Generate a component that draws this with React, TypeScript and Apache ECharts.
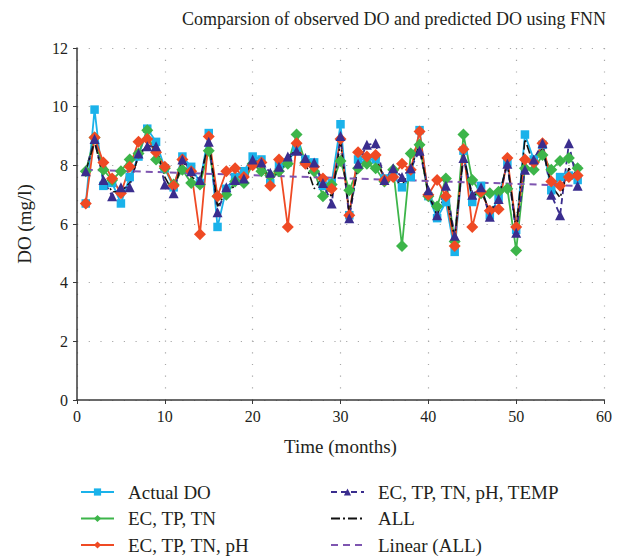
import React, { useEffect, useRef } from "react";
import * as echarts from "echarts";

const months = [1,2,3,4,5,6,7,8,9,10,11,12,13,14,15,16,17,18,19,20,21,22,23,24,25,26,27,28,29,30,31,32,33,34,35,36,37,38,39,40,41,42,43,44,45,46,47,48,49,50,51,52,53,54,55,56,57];

const actualDO = [6.7,9.9,7.3,7.4,6.7,7.6,8.3,9.25,8.8,7.9,7.25,8.3,7.95,7.4,9.1,5.9,7.2,7.6,7.8,8.3,8.2,7.4,8.0,8.1,8.6,8.2,8.1,7.3,7.4,9.4,6.3,8.2,8.2,8.2,7.55,7.65,7.25,7.6,9.2,6.95,6.2,6.75,5.05,8.5,6.75,7.3,6.3,6.9,8.1,5.8,9.05,8.2,8.7,7.15,7.6,7.65,7.5];

const ecTpTn = [7.8,8.95,7.85,7.5,7.8,8.2,8.4,9.2,8.2,7.9,7.35,7.85,7.4,7.35,8.5,6.95,7.0,7.45,7.4,8.05,7.8,7.65,7.8,8.05,9.05,8.1,7.8,6.95,7.35,8.15,7.15,7.9,8.05,7.9,7.45,7.85,5.25,8.4,8.7,6.95,6.6,7.55,5.4,9.05,7.5,7.05,7.05,7.1,7.2,5.1,7.9,7.85,8.35,7.85,8.15,8.25,7.9];

const ecTpTnPh = [6.7,8.95,8.1,7.55,7.05,7.95,8.8,8.9,8.45,7.95,7.3,8.2,7.8,5.65,8.98,6.95,7.8,7.9,7.6,8.0,8.1,7.3,8.2,5.9,8.75,8.05,7.95,7.55,7.2,8.9,6.3,8.45,8.3,8.35,7.5,7.6,8.05,7.85,9.15,7.0,7.5,6.95,5.25,8.55,5.9,7.1,6.45,6.5,8.25,5.9,8.2,8.1,8.75,7.45,7.3,7.6,7.65];

const ecTpTnPhTemp = [7.8,8.9,7.5,6.95,7.25,7.25,8.4,8.65,8.65,7.35,7.05,8.2,7.8,7.5,8.8,6.4,7.25,7.5,7.55,8.2,8.1,7.75,7.95,8.3,8.5,8.25,8.1,7.4,6.7,9.0,6.2,8.05,8.7,8.75,7.5,7.9,7.6,7.9,8.5,7.15,6.3,7.3,5.6,8.25,7.0,7.25,6.25,6.85,8.05,5.7,7.85,8.2,8.75,7.0,6.3,8.75,7.3];

const allInputs = [7.8,8.8,7.6,7.1,7.1,7.4,8.3,8.7,8.6,7.6,7.05,8.2,7.6,7.45,8.85,6.6,7.1,7.3,7.6,8.2,8.1,7.45,7.8,8.15,8.6,8.1,7.2,7.6,6.9,8.8,6.4,7.9,8.4,8.2,7.6,7.55,7.3,7.9,8.7,7.0,6.3,7.1,5.5,8.4,6.9,7.2,6.4,6.9,8.1,5.8,8.9,8.0,8.6,7.3,6.9,7.9,7.5];

const trendX = [1, 57];
const trendY = [7.85, 7.3];

const xTicks = [0, 10, 20, 30, 40, 50, 60];
const yTicks = [0, 2, 4, 6, 8, 10, 12];

const FONT = "Liberation Serif";

const pair = (xs: number[], ys: number[]) => xs.map((x, i) => [x, ys[i]]);

export default function App() {
  const ref = useRef<HTMLDivElement>(null);
  useEffect(() => {
    document.body.style.margin = "0";
    if (!ref.current) return;
    const chart = echarts.init(ref.current, undefined, { renderer: "svg" });
    const lineSeries = (name: string, data: number[], color: string, symbol: string, size: number, type: any, width: number) => ({
      name,
      type: "line",
      data: pair(months, data),
      symbol,
      symbolSize: size,
      showSymbol: symbol !== "none",
      itemStyle: { color },
      lineStyle: { color, width, type },
      emphasis: { disabled: true },
    });
    const legendText = { fontFamily: FONT, fontSize: 19, color: "#231f20", lineHeight: 20, padding: [0, 0, 0, 9] };
    chart.setOption({
      animation: false,
      title: {
        text: "Comparsion of observed DO and predicted DO using FNN",
        left: 177,
        top: 5,
        textStyle: { fontFamily: FONT, fontSize: 18, fontWeight: "normal", color: "#231f20" },
      },
      grid: { left: 77, right: 19, top: 48, bottom: 158 },
      xAxis: {
        type: "value",
        min: xTicks[0],
        max: xTicks[xTicks.length - 1],
        interval: 10,
        name: "Time (months)",
        nameLocation: "middle",
        nameGap: 37,
        nameTextStyle: { fontFamily: FONT, fontSize: 19, color: "#231f20" },
        axisLine: { lineStyle: { color: "#3a3a3a", width: 1.5 } },
        axisTick: { show: true, length: 4, lineStyle: { color: "#3a3a3a" } },
        axisLabel: { fontFamily: FONT, fontSize: 16, color: "#231f20", margin: 8 },
        splitLine: { show: true, lineStyle: { color: "#a8a8a8", width: 1.2, type: [1.2, 10.5] } },
      },
      yAxis: {
        type: "value",
        min: yTicks[0],
        max: yTicks[yTicks.length - 1],
        interval: 2,
        name: "DO (mg/l)",
        nameLocation: "middle",
        nameGap: 43,
        nameTextStyle: { fontFamily: FONT, fontSize: 19, color: "#231f20" },
        axisLine: { show: true, lineStyle: { color: "#3a3a3a", width: 1.5 } },
        axisTick: { show: true, length: 4, lineStyle: { color: "#3a3a3a" } },
        axisLabel: { fontFamily: FONT, fontSize: 16, color: "#231f20", margin: 9 },
        splitLine: { show: true, lineStyle: { color: "#a8a8a8", width: 1.2, type: [1.2, 10.5] } },
      },
      legend: [
        {
          data: ["Actual DO", "EC, TP, TN", "EC, TP, TN, pH"],
          orient: "vertical",
          left: 75,
          top: 477,
          height: 80,
          padding: 5,
          itemGap: 6.5,
          itemWidth: 33,
          itemHeight: 9,
          textStyle: legendText,
        },
        {
          data: [
            "EC, TP, TN, pH, TEMP",
            { name: "ALL", itemStyle: { opacity: 0 } },
            { name: "Linear (ALL)", itemStyle: { opacity: 0 } },
          ],
          orient: "vertical",
          left: 325,
          top: 477,
          height: 80,
          padding: 5,
          itemGap: 6.5,
          itemWidth: 33,
          itemHeight: 9,
          textStyle: legendText,
        },
      ],
      series: [
        lineSeries("Actual DO", actualDO, "#1ab2ea", "rect", 8.5, "solid", 1.8),
        lineSeries("EC, TP, TN", ecTpTn, "#3db54a", "diamond", 12, "solid", 1.8),
        lineSeries("EC, TP, TN, pH", ecTpTnPh, "#ef4a24", "diamond", 12, "solid", 1.8),
        lineSeries("EC, TP, TN, pH, TEMP", ecTpTnPhTemp, "#3a2d8e", "triangle", 10, [6, 4], 1.8),
        lineSeries("ALL", allInputs, "#111111", "none", 0, [9, 3, 2, 3], 1.6),
        {
          name: "Linear (ALL)",
          type: "line",
          data: pair(trendX, trendY),
          symbol: "none",
          itemStyle: { color: "#7e55b0" },
          lineStyle: { color: "#7e55b0", width: 2, type: [7, 5] },
          emphasis: { disabled: true },
        },
      ],
    });
    return () => chart.dispose();
  }, []);
  return <div ref={ref} style={{ width: 623, height: 558 }} />;
}
